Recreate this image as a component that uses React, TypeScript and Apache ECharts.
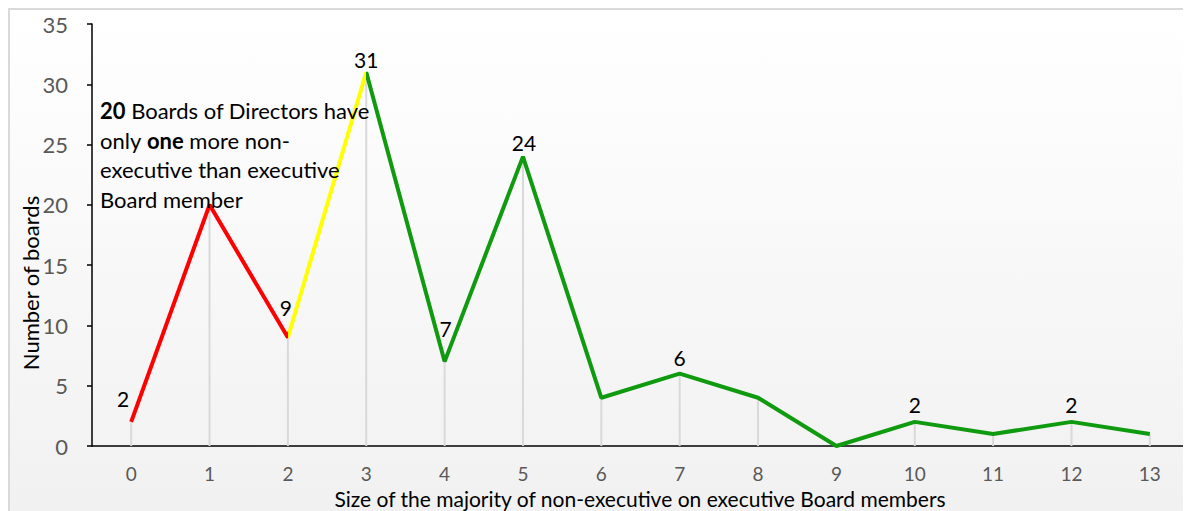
import React, { useEffect, useRef } from "react";
import * as echarts from "echarts";

const categories = ["0", "1", "2", "3", "4", "5", "6", "7", "8", "9", "10", "11", "12", "13"];
const boards = [2, 20, 9, 31, 7, 24, 4, 6, 4, 0, 2, 1, 2, 1];
const labelledIdx = [0, 2, 3, 4, 5, 7, 10, 12];
const labelOffsets: Record<number, [number, number]> = {
  0: [-8, -10],
  2: [-2, -17],
  3: [0, 0],
  4: [1, -20],
  5: [1, -1],
  7: [0, -3],
  10: [0, -4],
  12: [0, -4],
};
const yTicks = { min: 0, max: 35, interval: 5 };
const FONT = "Lato";

export default function App() {
  const ref = useRef<HTMLDivElement>(null);
  useEffect(() => {
    document.body.style.overflow = "hidden";
    const chart = echarts.init(ref.current!, null, { renderer: "svg" });
    const lineData = boards.map((v, i) =>
      labelledIdx.includes(i)
        ? {
            value: v,
            label: {
              show: true,
              position: "top",
              distance: 4,
              offset: labelOffsets[i],
              color: "#000",
              fontSize: 21,
              lineHeight: 18,
              fontFamily: FONT,
            },
          }
        : { value: v }
    );
    chart.setOption({
      animation: false,
      backgroundColor: new echarts.graphic.LinearGradient(0, 0, 0, 1, [
        { offset: 0, color: "#ffffff" },
        { offset: 1, color: "#f1f1f1" },
      ]),
      textStyle: { fontFamily: FONT },
      grid: { left: 82, right: 2, top: 14, bottom: 65 },
      xAxis: {
        type: "category",
        data: categories,
        boundaryGap: true,
        axisLine: { lineStyle: { color: "#000", width: 1.5 } },
        axisTick: { show: false },
        axisLabel: { color: "#595959", fontSize: 19, lineHeight: 14, margin: 20, fontFamily: FONT },
        splitLine: { show: false },
      },
      yAxis: {
        type: "value",
        min: yTicks.min,
        max: yTicks.max,
        interval: yTicks.interval,
        axisLine: { show: true, lineStyle: { color: "#000", width: 1.5 } },
        axisTick: { show: true, length: 5, lineStyle: { color: "#000", width: 1.5 } },
        axisLabel: { color: "#595959", fontSize: 22, margin: 24, fontFamily: FONT },
        splitLine: { show: false },
      },
      visualMap: {
        show: false,
        type: "piecewise",
        dimension: 0,
        seriesIndex: 1,
        pieces: [
          { lte: 2, color: "#ff0000" },
          { gt: 2, lte: 3, color: "#ffff00" },
          { gt: 3, color: "#109a10" },
        ],
      },
      series: [
        {
          type: "bar",
          data: boards,
          barWidth: 2,
          itemStyle: { color: "#d9d9d9" },
          silent: true,
          z: 1,
        },
        {
          type: "line",
          data: lineData,
          symbol: "circle",
          symbolSize: 0,
          showSymbol: true,
          lineStyle: { width: 4 },
          z: 3,
        },
      ],
      graphic: [
        {
          type: "text",
          left: 90,
          top: 86,
          z: 5,
          style: {
            text:
              "{b|20} Boards of Directors have\nonly {b|one} more non-\nexecutive than executive\nBoard member",
            fontSize: 22,
            fontFamily: FONT,
            lineHeight: 29.5,
            fill: "#000",
            rich: {
              b: { fontWeight: "bold", fontSize: 22, fontFamily: FONT, lineHeight: 29.5 },
            },
          },
        },
        {
          type: "text",
          x: 20,
          y: 273,
          rotation: Math.PI / 2,
          style: {
            text: "Number of boards",
            fontSize: 22,
            fontFamily: FONT,
            fill: "#000",
            align: "center",
            verticalAlign: "middle",
          },
        },
        {
          type: "text",
          x: 630,
          y: 488,
          style: {
            text: "Size of the majority of non-executive on executive Board members",
            fontSize: 21,
            lineHeight: 14,
            fontFamily: FONT,
            fill: "#000",
            align: "center",
            verticalAlign: "middle",
          },
        },
      ],
    });
    return () => chart.dispose();
  }, []);
  return (
    <div
      ref={ref}
      style={{
        width: 1183,
        height: 503,
        borderTop: "2px solid #d9d9d9",
        borderLeft: "2px solid #d9d9d9",
        boxSizing: "border-box",
      }}
    />
  );
}
